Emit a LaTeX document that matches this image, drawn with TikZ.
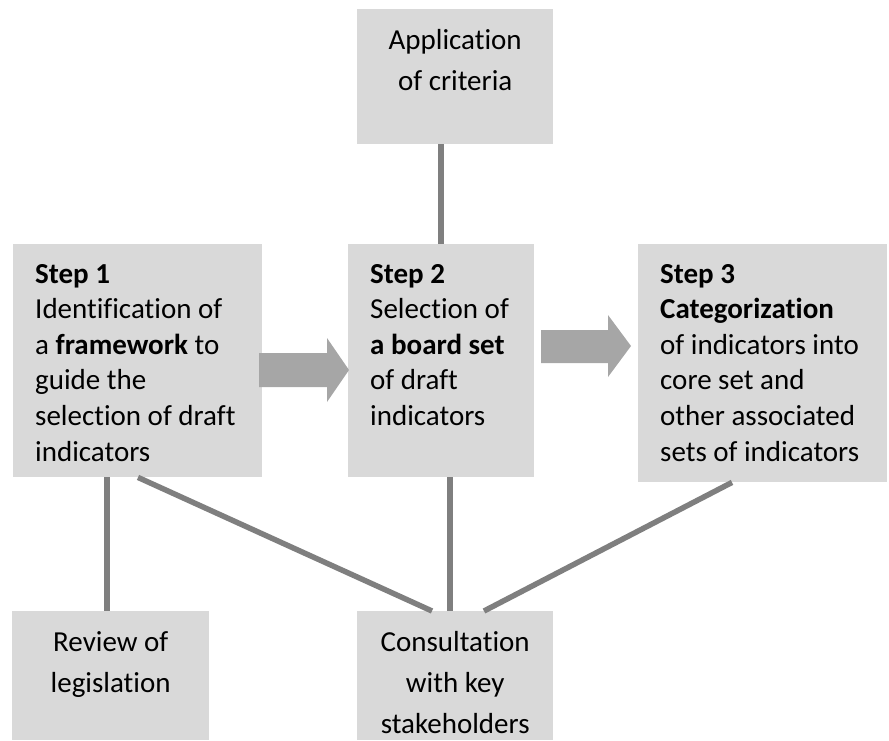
\documentclass[tikz,border=0pt]{standalone}
\usepackage{fontspec}
\setmainfont{Carlito}[Ligatures=NoCommon]
\definecolor{boxgray}{HTML}{D9D9D9}
\definecolor{linegray}{HTML}{7F7F7F}
\definecolor{arrowgray}{HTML}{A6A6A6}
\tikzset{
  box/.style={fill=boxgray,draw=none,inner sep=0pt,anchor=north west},
  steptext/.style={anchor=base west,inner sep=0pt,font=\fontsize{29}{35.6}\selectfont},
  boxtext/.style={anchor=base,inner sep=0pt,font=\fontsize{29}{41}\selectfont},
  link/.style={-,line width=5.5pt,linegray}
}
\begin{document}
\begin{tikzpicture}[x=1pt,y=-1pt]
\useasboundingbox (0,0) rectangle (889,740);
% boxes
\node[box,minimum width=196pt,minimum height=135pt] (crit) at (357,9) {};
\node[box,minimum width=249pt,minimum height=233pt] (s1) at (13,244) {};
\node[box,minimum width=186pt,minimum height=233pt] (s2) at (348,244) {};
\node[box,minimum width=249pt,minimum height=238pt] (s3) at (638,244) {};
\node[box,minimum width=197pt,minimum height=129pt] (rev) at (12,611) {};
\node[box,minimum width=196pt,minimum height=129pt] (cons) at (357,611) {};
% texts
\node[boxtext] (crittext) at ([yshift=-40pt]crit.north) {\parbox[t]{190pt}{\centering Application\\of criteria}};
\node[steptext] (s1text) at ([shift={(22,39)}]s1.north west) {\parbox[t]{225pt}{\textbf{Step 1}\\Identification of\\a \textbf{framework} to\\guide the\\selection of draft\\indicators}};
\node[steptext] (s2text) at ([shift={(22,39)}]s2.north west) {\parbox[t]{165pt}{\textbf{Step 2}\\Selection of\\\textbf{a board set}\\of draft\\indicators}};
\node[steptext] (s3text) at ([shift={(22,39)}]s3.north west) {\parbox[t]{225pt}{\textbf{Step 3}\\\textbf{Categorization}\\of indicators into\\core set and\\other associated\\sets of indicators}};
\node[boxtext] (revtext) at ([yshift=-40pt]rev.north) {\parbox[t]{190pt}{\centering Review of\\legislation}};
\node[boxtext] (constext) at ([yshift=-40pt]cons.north) {\parbox[t]{190pt}{\centering Consultation\\with key\\stakeholders}};
% block arrows
\fill[arrowgray] (259,353) -- (327,353) -- (327,338) -- (349,370) -- (327,402) -- (327,387) -- (259,387) -- cycle;
\fill[arrowgray] (541,330) -- (608,330) -- (608,315) -- (631,346) -- (608,377) -- (608,363) -- (541,363) -- cycle;
% links
\draw[link] ([xshift=84pt]crit.south west) -- ([xshift=93pt]s2.north west);
\draw[link] ([xshift=94pt]s1.south west) -- ([xshift=95pt]rev.north west);
\draw[link] ([xshift=125pt]s1.south west) -- ([xshift=75pt]cons.north west);
\draw[link] ([xshift=102pt]s2.south west) -- ([xshift=93pt]cons.north west);
\draw[link] ([xshift=94pt]s3.south west) -- ([xshift=127pt]cons.north west);
\end{tikzpicture}
\end{document}
